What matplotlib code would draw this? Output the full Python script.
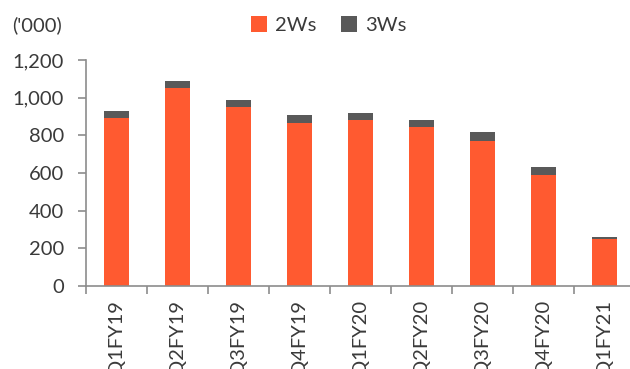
############################ Quarterly volume chart ############################
import numpy as np
import matplotlib.pyplot as plt

################################### Data ######################################
quarters = ['Q1FY19', 'Q2FY19', 'Q3FY19', 'Q4FY19', 'Q1FY20',
            'Q2FY20', 'Q3FY20', 'Q4FY20', 'Q1FY21']
two_wheelers = [891, 1049, 950, 865, 881, 842, 771, 588, 251]
three_wheelers = [37, 40, 38, 42, 40, 42, 48, 43, 11]

################################## Styling ####################################
plt.rcParams['font.family'] = ['Lato', 'DejaVu Sans']
orange = '#ff5a30'
grey = '#595959'
axis_col = '#8c8c8c'
text_col = '#3a3a3a'
fs = 14.5

fig = plt.figure(figsize=(6.3, 3.69), dpi=100)
# axes runs a little past the right edge, like the cropped original
ax = fig.add_axes([86/630, 1 - 286/369, 549/630, 226/369])

x = np.arange(len(quarters))
ax.bar(x, two_wheelers, width=0.4, color=orange, label='2Ws', zorder=2)
ax.bar(x, three_wheelers, width=0.4, bottom=two_wheelers, color=grey,
       label='3Ws', zorder=2)

ax.set_xlim(-0.5, len(quarters) - 0.5)
ax.set_ylim(0, 1200)
ax.set_yticks(range(0, 1201, 200))
ax.set_yticklabels(['{:,}'.format(v) for v in range(0, 1201, 200)])

# labels at bar centres, tick marks between the bars
ax.set_xticks(x)
ax.set_xticklabels(quarters, rotation=90, va='top')
ax.set_xticks(np.arange(-0.5, len(quarters), 1), minor=True)
ax.tick_params(axis='x', which='major', length=0, pad=10)
ax.tick_params(axis='x', which='minor', length=6, width=1.2, color=axis_col)
ax.tick_params(axis='y', length=6, width=1.2, color=axis_col, pad=10)
ax.tick_params(labelsize=fs, labelcolor=text_col)

for side in ['top', 'right']:
    ax.spines[side].set_visible(False)
for side in ['left', 'bottom']:
    ax.spines[side].set_color(axis_col)
    ax.spines[side].set_linewidth(1.2)

fig.text(12/630, 1 - 25/369, "('000)", fontsize=fs, color=text_col,
         va='center', ha='left')
fig.legend(loc='center', bbox_to_anchor=(0.522, 1 - 25/369), ncol=2,
           frameon=False, fontsize=fs, handlelength=0.8, handleheight=0.8,
           handletextpad=0.4, columnspacing=1.2, labelcolor=text_col)

fig.savefig('out.png', dpi=100)
